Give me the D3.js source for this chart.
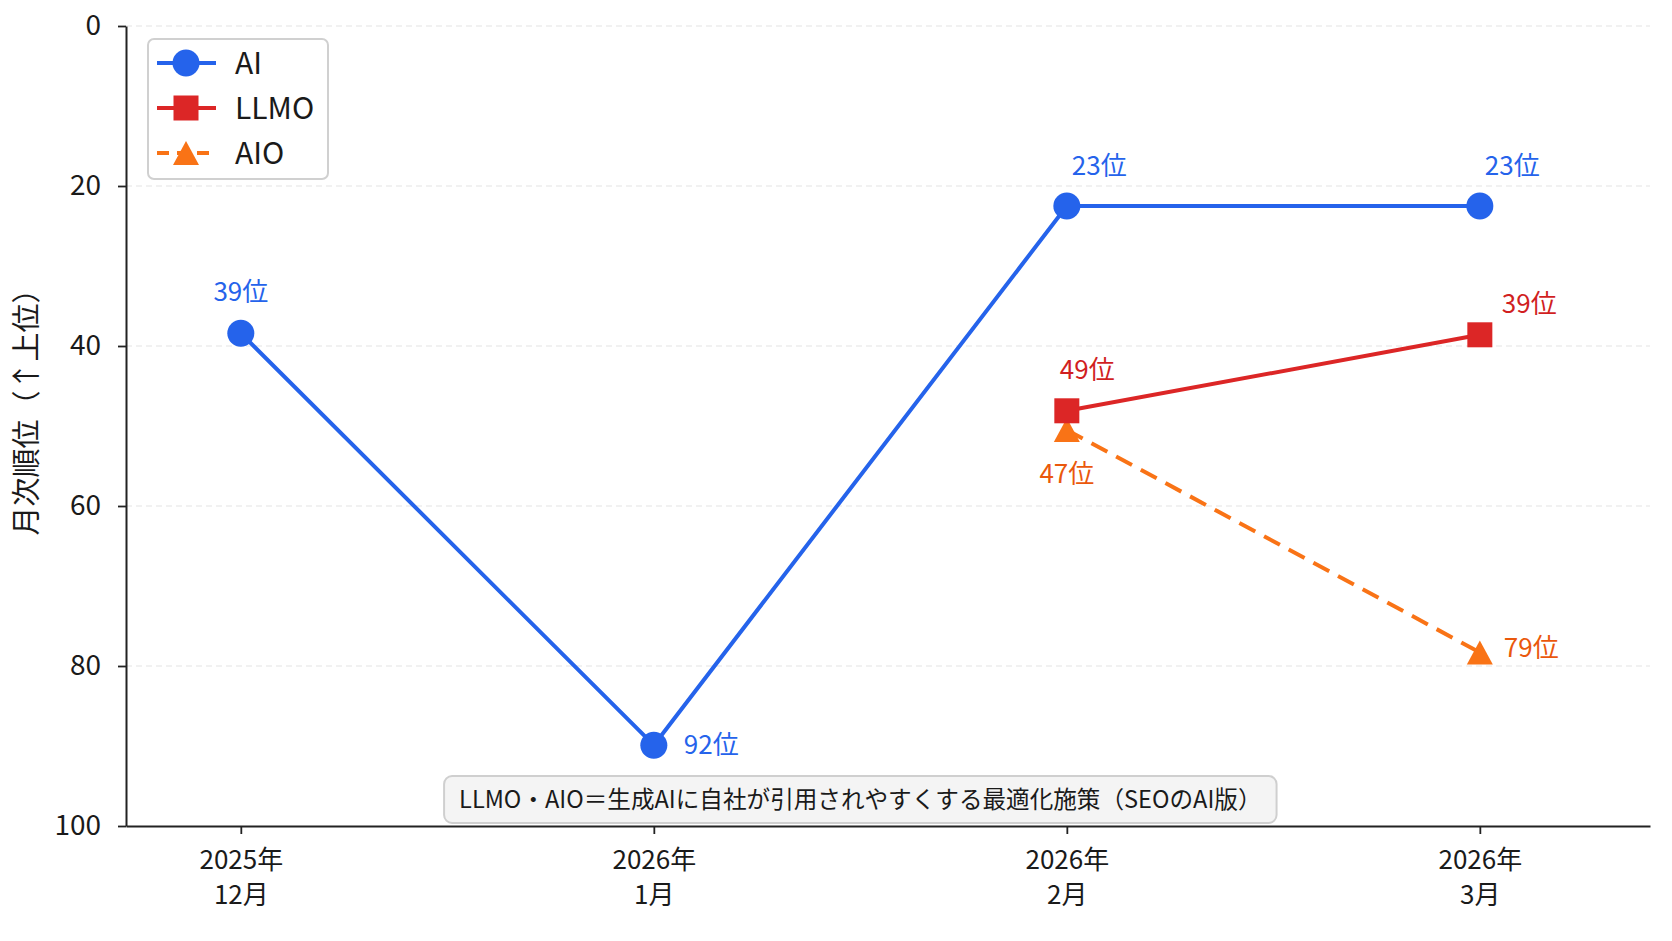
<!DOCTYPE html>
<html><head><meta charset="utf-8">
<script src="https://cdn.jsdelivr.net/npm/d3@7"></script>
<style>
body{margin:0;background:#fff;}
text{font-family:"Noto Sans CJK JP","Noto Sans",sans-serif;}
</style>
</head><body>
<svg id="c" width="1672" height="941"></svg>
<script>
// ---- data ----
const categories = [["2025年","12月"],["2026年","1月"],["2026年","2月"],["2026年","3月"]];
const aiValues   = [38.4, 89.9, 22.5, 22.5];
const llmoValues = [null, null, 48.1, 38.6];
const aioValues  = [null, null, 50.5, 78.3];
const aiLabels   = ["39位","92位","23位","23位"];
const llmoLabels = [null, null, "49位","39位"];
const aioLabels  = [null, null, "47位","79位"];
const yTicks = [0, 20, 40, 60, 80, 100];
const seriesNames = ["AI", "LLMO", "AIO"];
const yTitle = "月次順位（↑上位）";
const noteText = "LLMO・AIO＝生成AIに自社が引用されやすくする最適化施策（SEOのAI版）";

// ---- styles / layout ----
const W = 1672, H = 941;
const L = 126, R = 1650, T = 26, B = 826;
const svg = d3.select("#c");
svg.append("rect").attr("width", W).attr("height", H).attr("fill", "#fff");

const x = d3.scaleLinear().domain([-0.278, 3.412]).range([L, R]);
const y = d3.scaleLinear().domain([0, 100]).range([T, B]);

const series = [
  {name: seriesNames[2], values: aioValues, labels: aioLabels, color: "#f97316", label: "#ea580c", shape: "tri", dash: "18,10",
   off: [null, null, [0, 44, "middle"], [24, -5, "start"]]},
  {name: seriesNames[1], values: llmoValues, labels: llmoLabels, color: "#dc2626", label: "#d11f1f", shape: "sq", dash: null,
   off: [null, null, [-7, -41, "start"], [22, -31, "start"]]},
  {name: seriesNames[0], values: aiValues, labels: aiLabels, color: "#2563eb", label: "#2563eb", shape: "circ", dash: null,
   off: [[0, -41, "middle"], [30, 0, "start"], [5, -40, "start"], [5, -40, "start"]]}
];

// grid
svg.append("g").selectAll("line").data(yTicks.filter(d => d < 100)).join("line")
  .attr("x1", L).attr("x2", R).attr("y1", d => y(d)).attr("y2", d => y(d))
  .attr("stroke", "#e4e4e4").attr("stroke-width", 1.2).attr("stroke-dasharray", "6,4");

// axes
const yAxis = svg.append("g").attr("transform", `translate(${L},0)`)
  .call(d3.axisLeft(y).tickValues(yTicks).tickSize(8).tickSizeOuter(0).tickPadding(17));
yAxis.select(".domain").attr("stroke", "#222").attr("stroke-width", 2);
yAxis.selectAll(".tick line").attr("stroke", "#222").attr("stroke-width", 1.8);
yAxis.selectAll(".tick text").attr("font-size", 28).attr("fill", "#1a1a1a")
  .style("font-family", '"Noto Sans CJK JP","Noto Sans",sans-serif');

const xAxis = svg.append("g").attr("transform", `translate(0,${B})`)
  .call(d3.axisBottom(x).tickValues(d3.range(categories.length)).tickSize(8).tickSizeOuter(0).tickFormat(() => ""));
xAxis.select(".domain").attr("stroke", "#222").attr("stroke-width", 2);
xAxis.selectAll(".tick line").attr("stroke", "#222").attr("stroke-width", 1.8);
xAxis.selectAll(".tick").each(function(d) {
  const g = d3.select(this);
  g.select("text").remove();
  categories[d].forEach((t, i) => {
    g.append("text").attr("x", 0).attr("y", 34 + i * 35).attr("dy", "0.35em")
      .attr("text-anchor", "middle").attr("font-size", 26).attr("fill", "#1a1a1a").text(t);
  });
});

// y title
svg.append("text").attr("transform", `translate(27,405) rotate(-90)`)
  .attr("text-anchor", "middle").attr("dy", "0.35em").attr("font-size", 29).attr("fill", "#1a1a1a").text(yTitle);

// marker helper
function marker(sel, shape, color) {
  if (shape === "circ") {
    sel.append("circle").attr("r", 13.5).attr("fill", color);
  } else if (shape === "sq") {
    sel.append("rect").attr("x", -12.5).attr("y", -12.5).attr("width", 25).attr("height", 25).attr("fill", color);
  } else {
    sel.append("path").attr("d", "M0,-12L13,12L-13,12Z").attr("fill", color);
  }
}

// series
series.forEach(s => {
  const pts = s.values.map((v, i) => ({i, v})).filter(p => p.v != null);
  svg.append("path").datum(pts)
    .attr("d", d3.line().x(p => x(p.i)).y(p => y(p.v)))
    .attr("fill", "none").attr("stroke", s.color).attr("stroke-width", 4)
    .attr("stroke-dasharray", s.dash).attr("stroke-linejoin", "round");
  pts.forEach(p => {
    const g = svg.append("g").attr("transform", `translate(${x(p.i)},${y(p.v)})`);
    marker(g, s.shape, s.color);
  });
});
// labels
series.forEach(s => {
  s.values.forEach((v, i) => {
    if (v == null) return;
    const o = s.off[i];
    svg.append("text").attr("x", x(i) + o[0]).attr("y", y(v) + o[1]).attr("dy", "0.35em")
      .attr("text-anchor", o[2]).attr("font-size", 26).attr("fill", s.label).text(s.labels[i]);
  });
});

// legend
const lg = svg.append("g");
lg.append("rect").attr("x", 148).attr("y", 39).attr("width", 180).attr("height", 140).attr("rx", 6)
  .attr("fill", "#fff").attr("fill-opacity", 0.9).attr("stroke", "#d0d0d0").attr("stroke-width", 2);
[series[2], series[1], series[0]].forEach((s, k) => {
  const cy = 63 + k * 45;
  lg.append("line").attr("x1", 157).attr("x2", 216).attr("y1", cy).attr("y2", cy)
    .attr("stroke", s.color).attr("stroke-width", 4).attr("stroke-dasharray", s.dash ? "12,8" : null);
  marker(lg.append("g").attr("transform", `translate(186,${cy})`), s.shape, s.color);
  lg.append("text").attr("x", 235).attr("y", cy).attr("dy", "0.35em").attr("font-size", 30)
    .attr("fill", "#1a1a1a").text(s.name);
});

// note box
const ng = svg.append("g");
const nt = ng.append("text").attr("x", x(1.5)).attr("y", 800).attr("dy", "0.35em")
  .attr("text-anchor", "middle").attr("font-size", 23.6).attr("fill", "#1a1a1a").text(noteText);
const bb = nt.node().getBBox();
ng.insert("rect", "text").attr("x", x(1.5) - (bb.width / 2 + 15)).attr("y", 776)
  .attr("width", bb.width + 30).attr("height", 47).attr("rx", 8)
  .attr("fill", "#f4f4f4").attr("stroke", "#cfcfcf").attr("stroke-width", 2);
</script>
</body></html>
